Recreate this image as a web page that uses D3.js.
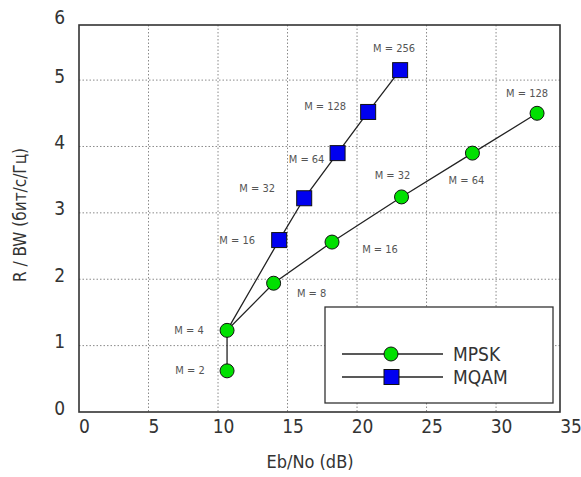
<!DOCTYPE html>
<html>
<head>
<meta charset="utf-8">
<script src="https://d3js.org/d3.v7.min.js"></script>
<style>
  body { margin: 0; background: #fff; }
  svg text { font-family: "DejaVu Sans", sans-serif; font-stretch: condensed; }
  .grid line { stroke: #8a8a8a; stroke-width: 1; stroke-dasharray: 1.5,2; }
  .tick-label { fill: #333; font-size: 19px; }
  .pt-label { fill: #555; font-size: 11px; }
</style>
</head>
<body>
<div id="chart"></div>
<script>
// data
const mpskM = [2, 4, 8, 16, 32, 64, 128];
const mpskEbNo = [10.65, 10.65, 14.0, 18.2, 23.2, 28.3, 32.95];
const mpskRate = [0.62, 1.23, 1.94, 2.56, 3.24, 3.9, 4.5];

// MQAM line starts from the shared M = 4 point
const mqamM = [4, 16, 32, 64, 128, 256];
const mqamEbNo = [10.65, 14.4, 16.2, 18.6, 20.8, 23.1];
const mqamRate = [1.23, 2.59, 3.22, 3.9, 4.52, 5.15];

const xTicks = [0, 5, 10, 15, 20, 25, 30, 35];
const yTicks = [0, 1, 2, 3, 4, 5, 6];

// label offsets (px) for the "M = n" notes
const mpskLabelOffsets = [[-37, 0], [-38, 0], [38, 10], [48, 7], [-9, -21], [-6, 27], [-10, -20]];
const mqamLabelOffsets = [null, [-42, 0], [-47, -10], [-31, 6], [-43, -5], [-6, -22]];

const W = 581, H = 477;
const plot = { left: 79, right: 560, top: 25, bottom: 412 };

const svg = d3.select("#chart").append("svg")
  .attr("width", W).attr("height", H);

const x = d3.scaleLinear().domain([0, 34.6]).range([plot.left, plot.right]);
const y = d3.scaleLinear().domain([0, 5.83]).range([plot.bottom, plot.top]);

// grid
const grid = svg.append("g").attr("class", "grid");
grid.selectAll(".vx").data(xTicks.filter(d => d > 0 && d < 35)).join("line")
  .attr("x1", d => x(d)).attr("x2", d => x(d))
  .attr("y1", plot.top).attr("y2", plot.bottom);
grid.selectAll(".hy").data(yTicks.filter(d => d > 0 && d < 6)).join("line")
  .attr("y1", d => y(d)).attr("y2", d => y(d))
  .attr("x1", plot.left).attr("x2", plot.right);

// frame
svg.append("rect")
  .attr("x", plot.left).attr("y", plot.top)
  .attr("width", plot.right - plot.left).attr("height", plot.bottom - plot.top)
  .attr("fill", "none").attr("stroke", "#333").attr("stroke-width", 1.6);

// axes (labels only, the frame is drawn above)
const xAxis = svg.append("g")
  .attr("transform", `translate(5,${plot.bottom})`)
  .call(d3.axisBottom(x).tickValues(xTicks).tickFormat(d3.format("d")).tickSize(0).tickPadding(8));
const yAxis = svg.append("g")
  .attr("transform", `translate(${plot.left},-4)`)
  .call(d3.axisLeft(y).tickValues(yTicks).tickFormat(d3.format("d")).tickSize(0).tickPadding(14));
[xAxis, yAxis].forEach(a => {
  a.select(".domain").remove();
  a.attr("font-family", null).attr("font-size", null);
  a.selectAll("text").attr("class", "tick-label").attr("fill", null);
});
// keep the top label inside the page
yAxis.selectAll(".tick").filter(d => d === 6).select("text").attr("dy", "0.75em");

// axis titles
svg.append("text")
  .attr("x", 310).attr("y", 468)
  .attr("text-anchor", "middle")
  .attr("fill", "#333").style("font-size", "18px")
  .text("Eb/No (dB)");
svg.append("text")
  .attr("transform", "translate(26,215) rotate(-90)")
  .attr("text-anchor", "middle")
  .attr("fill", "#333").style("font-size", "17px")
  .text("R / BW (бит/с/Гц)");

const line = d3.line().x(d => x(d[0])).y(d => y(d[1]));
const mpsk = mpskM.map((m, i) => [mpskEbNo[i], mpskRate[i], m, mpskLabelOffsets[i]]);
const mqam = mqamM.map((m, i) => [mqamEbNo[i], mqamRate[i], m, mqamLabelOffsets[i]]);

svg.append("path").datum(mqam).attr("d", line)
  .attr("fill", "none").attr("stroke", "#222").attr("stroke-width", 1.3);
svg.append("path").datum(mpsk).attr("d", line)
  .attr("fill", "none").attr("stroke", "#222").attr("stroke-width", 1.3);

// markers
svg.selectAll(".sq").data(mqam.slice(1)).join("rect")
  .attr("x", d => x(d[0]) - 7.5).attr("y", d => y(d[1]) - 7.5)
  .attr("width", 15).attr("height", 15)
  .attr("fill", "#0000f0").attr("stroke", "#111").attr("stroke-width", 1);
svg.selectAll(".ci").data(mpsk).join("circle")
  .attr("cx", d => x(d[0])).attr("cy", d => y(d[1])).attr("r", 7)
  .attr("fill", "#00e000").attr("stroke", "#111").attr("stroke-width", 1);

// "M = n" notes
svg.selectAll(".lbl").data(mpsk.concat(mqam.slice(1))).join("text")
  .attr("class", "pt-label")
  .attr("x", d => x(d[0]) + d[3][0]).attr("y", d => y(d[1]) + d[3][1])
  .attr("text-anchor", "middle").attr("dominant-baseline", "central")
  .text(d => "M = " + d[2]);

// legend
const lg = svg.append("g");
lg.append("rect").attr("x", 325).attr("y", 307).attr("width", 228).attr("height", 96)
  .attr("fill", "#fff").attr("stroke", "#333").attr("stroke-width", 1.3);
const legendItems = ["MPSK", "MQAM"];
legendItems.forEach((name, i) => {
  const ly = 354 + i * 23;
  lg.append("line").attr("x1", 342).attr("x2", 443).attr("y1", ly).attr("y2", ly)
    .attr("stroke", "#222").attr("stroke-width", 1.3);
  if (i === 0) {
    lg.append("circle").attr("cx", 391).attr("cy", ly).attr("r", 7)
      .attr("fill", "#00e000").attr("stroke", "#111");
  } else {
    lg.append("rect").attr("x", 384).attr("y", ly - 7.5).attr("width", 15).attr("height", 15)
      .attr("fill", "#0000f0").attr("stroke", "#111");
  }
  lg.append("text").attr("x", 453).attr("y", ly).attr("dominant-baseline", "central")
    .attr("fill", "#333").style("font-size", "19px").text(name);
});
</script>
</body>
</html>
